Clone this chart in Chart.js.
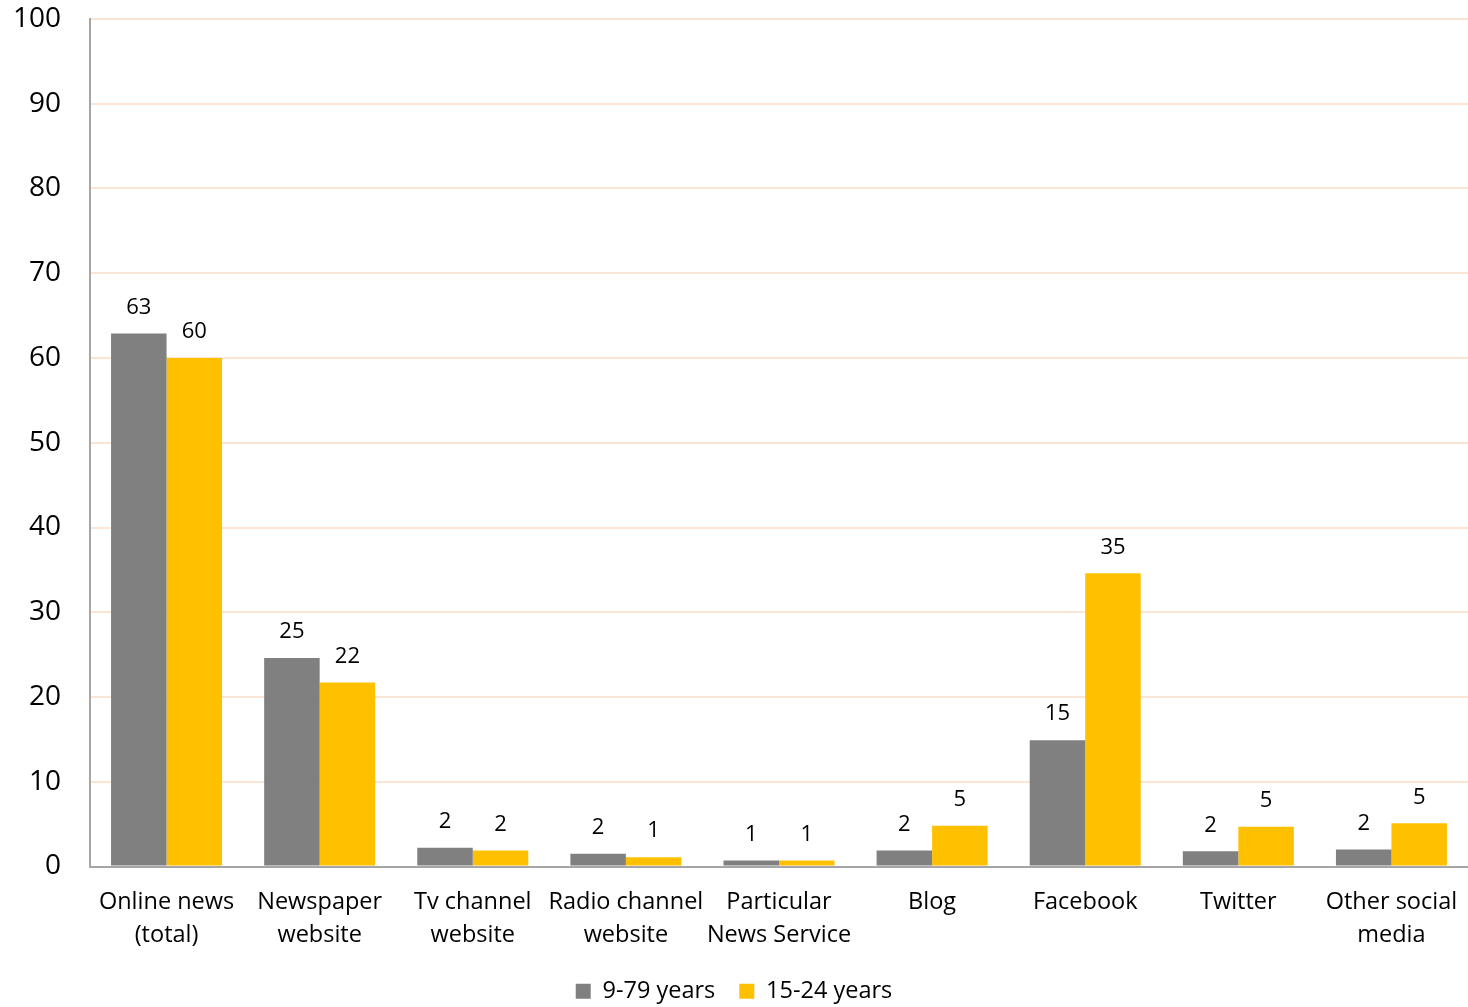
<!DOCTYPE html>
<html>
<head>
<meta charset="utf-8">
<script src="https://cdn.jsdelivr.net/npm/chart.js@4"></script>
<style>
  body { margin: 0; background: #fff; }
  #wrap { width: 1468px; height: 1007px; }
</style>
</head>
<body>
<div id="wrap"><canvas id="myChart"></canvas></div>
<script>
// categories and the two series
const categories = [
  ["Online news", "(total)"],
  ["Newspaper", "website"],
  ["Tv channel", "website"],
  ["Radio channel", "website"],
  ["Particular", "News Service"],
  ["Blog"],
  ["Facebook"],
  ["Twitter"],
  ["Other social", "media"]
];
const allAges = [62.9, 24.6, 2.2, 1.5, 0.7, 1.9, 14.9, 1.8, 2.0];
const youth = [60.0, 21.7, 1.9, 1.1, 0.7, 4.8, 34.6, 4.7, 5.1];
const yTicks = [0, 10, 20, 30, 40, 50, 60, 70, 80, 90, 100];

const fontFam = "'Open Sans', 'DejaVu Sans', sans-serif";

// put the rounded value above each bar
const valueLabels = {
  id: "valueLabels",
  afterDatasetsDraw(chart) {
    const ctx = chart.ctx;
    ctx.save();
    ctx.font = "22px " + fontFam;
    ctx.fillStyle = "#000";
    ctx.textAlign = "center";
    ctx.textBaseline = "bottom";
    chart.data.datasets.forEach((ds, i) => {
      chart.getDatasetMeta(i).data.forEach((bar, j) => {
        ctx.fillText(Math.round(ds.data[j]), bar.x, bar.y - 15);
      });
    });
    ctx.restore();
  }
};

const ctx = document.getElementById("myChart").getContext("2d");
new Chart(ctx, {
  type: "bar",
  data: {
    labels: categories,
    datasets: [
      { label: "9-79 years", data: allAges, backgroundColor: "#808080" },
      { label: "15-24 years", data: youth, backgroundColor: "#ffc000" }
    ]
  },
  options: {
    responsive: true,
    maintainAspectRatio: false,
    animation: false,
    datasets: { bar: { categoryPercentage: 0.725, barPercentage: 1.0 } },
    layout: { padding: { top: 19, right: 0, left: 0, bottom: -6 } },
    scales: {
      x: {
        grid: { display: false, drawTicks: false },
        border: { color: "#a6a6a6", width: 2 },
        ticks: { color: "#000", font: { family: fontFam, size: 23.5, lineHeight: 1.38 }, padding: 20, maxRotation: 0, autoSkip: false },
        afterFit(scale) {
          scale.height = 89;
          scale.paddingLeft = 0;
          scale.paddingRight = 0;
        }
      },
      y: {
        min: 0,
        max: 100,
        afterBuildTicks(scale) { scale.ticks = yTicks.map(v => ({ value: v })); },
        grid: { color: "#fbe5d5", lineWidth: 2, drawTicks: false },
        border: { color: "#a6a6a6", width: 2 },
        ticks: { color: "#000", font: { family: fontFam, size: 28 }, padding: 29 },
        afterFit(scale) {
          scale.width = 90;
          scale.paddingTop = 0;
          scale.paddingBottom = 0;
        }
      }
    },
    plugins: {
      legend: {
        position: "bottom",
        labels: {
          color: "#000",
          font: { family: fontFam, size: 23.5 },
          boxWidth: 15,
          boxHeight: 15,
          padding: 24
        }
      },
      tooltip: { enabled: false }
    }
  },
  plugins: [valueLabels]
});
</script>
</body>
</html>
